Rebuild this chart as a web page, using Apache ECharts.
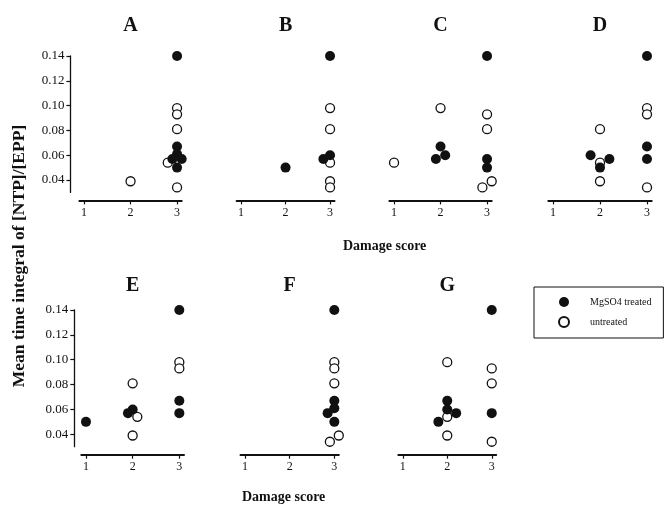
<!DOCTYPE html>
<html>
<head>
<meta charset="utf-8">
<script src="https://cdn.jsdelivr.net/npm/echarts@6/dist/echarts.min.js"></script>
<style>
  html, body { margin: 0; padding: 0; background: #fff; }
  #chart { width: 664px; height: 508px; }
</style>
</head>
<body>
<div id="chart"></div>
<script>
// Damage score categories and NTP/EPP axis ticks
const scores = [1, 2, 3];
const yTicks = [0.04, 0.06, 0.08, 0.10, 0.12, 0.14];
const panelNames = ['A', 'B', 'C', 'D', 'E', 'F', 'G'];

// [damage score (with small horizontal spread for overlapping points), mean time integral]
const treatedA = [[3, 0.140], [3, 0.067], [3, 0.061], [2.9, 0.057], [3.1, 0.057], [3, 0.050]];
const untreatedA = [[2, 0.039], [3, 0.098], [3, 0.093], [3, 0.081], [2.8, 0.054], [3, 0.034]];

const treatedB = [[2, 0.050], [3, 0.140], [3, 0.060], [2.85, 0.057], [3.15, 0.057]];
const untreatedB = [[3, 0.098], [3, 0.081], [3, 0.054], [3, 0.039], [3, 0.034]];

const treatedC = [[2, 0.067], [1.9, 0.057], [2.1, 0.060], [3, 0.140], [3, 0.057], [3, 0.050]];
const untreatedC = [[1, 0.054], [2, 0.098], [3, 0.093], [3, 0.081], [2.9, 0.034], [3.1, 0.039]];

const treatedD = [[1.8, 0.060], [2.2, 0.057], [2, 0.050], [3, 0.140], [3, 0.067], [3, 0.057]];
const untreatedD = [[2, 0.081], [2, 0.054], [2, 0.039], [3, 0.098], [3, 0.093], [3, 0.034]];

const treatedE = [[1, 0.050], [1.9, 0.057], [2, 0.060], [3, 0.140], [3, 0.067], [3, 0.057]];
const untreatedE = [[2, 0.081], [2.1, 0.054], [2, 0.039], [3, 0.098], [3, 0.093]];

const treatedF = [[3, 0.140], [3, 0.067], [3, 0.061], [2.85, 0.057], [3.15, 0.057], [3, 0.050]];
const untreatedF = [[3, 0.098], [3, 0.093], [3, 0.081], [3.2, 0.054], [2.9, 0.034], [3.1, 0.039]];

const treatedG = [[2, 0.067], [2, 0.060], [2.2, 0.057], [1.8, 0.050], [3, 0.140], [3, 0.057]];
const untreatedG = [[2, 0.098], [2, 0.054], [2, 0.039], [3, 0.093], [3, 0.081], [3, 0.034]];

const treatedSets = [treatedA, treatedB, treatedC, treatedD, treatedE, treatedF, treatedG];
const untreatedSets = [untreatedA, untreatedB, untreatedC, untreatedD, untreatedE, untreatedF, untreatedG];

// Panel layout: left edge, width (x from 0.9 to 3.1), top, height (y from 0.03 to 0.14), title top
const layout = [
  { left: 79.4, width: 102.3, top: 56, height: 136.4, titleTop: 16, showY: true, yOff: 9 },
  { left: 236.6, width: 97.9, top: 56, height: 136.4, titleTop: 16 },
  { left: 389.4, width: 102.3, top: 56, height: 136.4, titleTop: 16 },
  { left: 548.3, width: 103.4, top: 56, height: 136.4, titleTop: 16 },
  { left: 81.3, width: 102.7, top: 310, height: 136.7, titleTop: 276, showY: true, yOff: 7 },
  { left: 240.5, width: 98.3, top: 310, height: 136.7, titleTop: 276 },
  { left: 398.3, width: 97.9, top: 310, height: 136.7, titleTop: 276 }
];

const FONT = '"Liberation Serif", "Times New Roman", serif';
const INK = '#111';

const grids = [], xAxes = [], yAxes = [], series = [], titles = [];

layout.forEach((p, i) => {
  grids.push({ left: p.left, top: p.top, width: p.width, height: p.height, containLabel: false });
  xAxes.push({
    type: 'value', gridIndex: i, min: 0.9, max: 3.1,
    offset: 8,
    axisLine: { show: true, onZero: false, lineStyle: { color: INK, width: 2 } },
    axisTick: { show: true, length: 4, customValues: scores, lineStyle: { color: INK, width: 1.2 } },
    axisLabel: { customValues: scores, margin: 6, color: INK, fontFamily: FONT, fontSize: 12 },
    splitLine: { show: false }
  });
  yAxes.push({
    type: 'value', gridIndex: i, min: 0.03, max: 0.14,
    show: !!p.showY,
    offset: p.yOff || 0,
    axisLine: { show: true, lineStyle: { color: INK, width: 1.3 } },
    axisTick: { show: true, length: 4, customValues: yTicks, lineStyle: { color: INK, width: 1.2 } },
    axisLabel: {
      customValues: yTicks, margin: 6, color: INK, fontFamily: FONT, fontSize: 13,
      formatter: v => v.toFixed(2)
    },
    splitLine: { show: false }
  });
  const center = p.left + (2 - 0.9) / 2.2 * p.width;
  titles.push({
    text: panelNames[i],
    left: center, textAlign: 'center',
    top: p.titleTop, padding: 0,
    textStyle: { fontFamily: FONT, fontWeight: 'bold', fontSize: 20, color: INK }
  });
  series.push({
    name: 'untreated', type: 'scatter', xAxisIndex: i, yAxisIndex: i,
    data: untreatedSets[i], symbol: 'circle', symbolSize: 9,
    itemStyle: { color: '#fff', borderColor: INK, borderWidth: 1.3, opacity: 1 },
    emphasis: { disabled: true }, z: 2
  });
  series.push({
    name: 'MgSO4 treated', type: 'scatter', xAxisIndex: i, yAxisIndex: i,
    data: treatedSets[i], symbol: 'circle', symbolSize: 10,
    itemStyle: { color: INK, opacity: 1 },
    emphasis: { disabled: true }, z: 3
  });
});

const option = {
  animation: false,
  backgroundColor: '#fff',
  title: titles,
  grid: grids,
  xAxis: xAxes,
  yAxis: yAxes,
  series: series,
  legend: {
    data: ['MgSO4 treated', 'untreated'],
    orient: 'vertical',
    left: 534, top: 287,
    padding: [10, 12, 10, 24],
    itemGap: 9,
    itemWidth: 10, itemHeight: 10,
    borderColor: INK, borderWidth: 1,
    selectedMode: false,
    textStyle: { fontFamily: FONT, fontSize: 10, color: INK, padding: [0, 0, 0, 16] }
  },
  graphic: [
    {
      type: 'text', left: 343, top: 239,
      style: { text: 'Damage score', font: 'bold 14px ' + FONT, fill: INK }
    },
    {
      type: 'text', left: 242, top: 490,
      style: { text: 'Damage score', font: 'bold 14px ' + FONT, fill: INK }
    },
    {
      type: 'text', x: 19, y: 256, rotation: Math.PI / 2,
      style: {
        text: 'Mean time integral of [NTP]/[EPP]', font: 'bold 17.5px ' + FONT, fill: INK,
        align: 'center', verticalAlign: 'middle'
      }
    }
  ]
};

const chart = echarts.init(document.getElementById('chart'), null, { renderer: 'canvas' });
chart.setOption(option);
</script>
</body>
</html>
